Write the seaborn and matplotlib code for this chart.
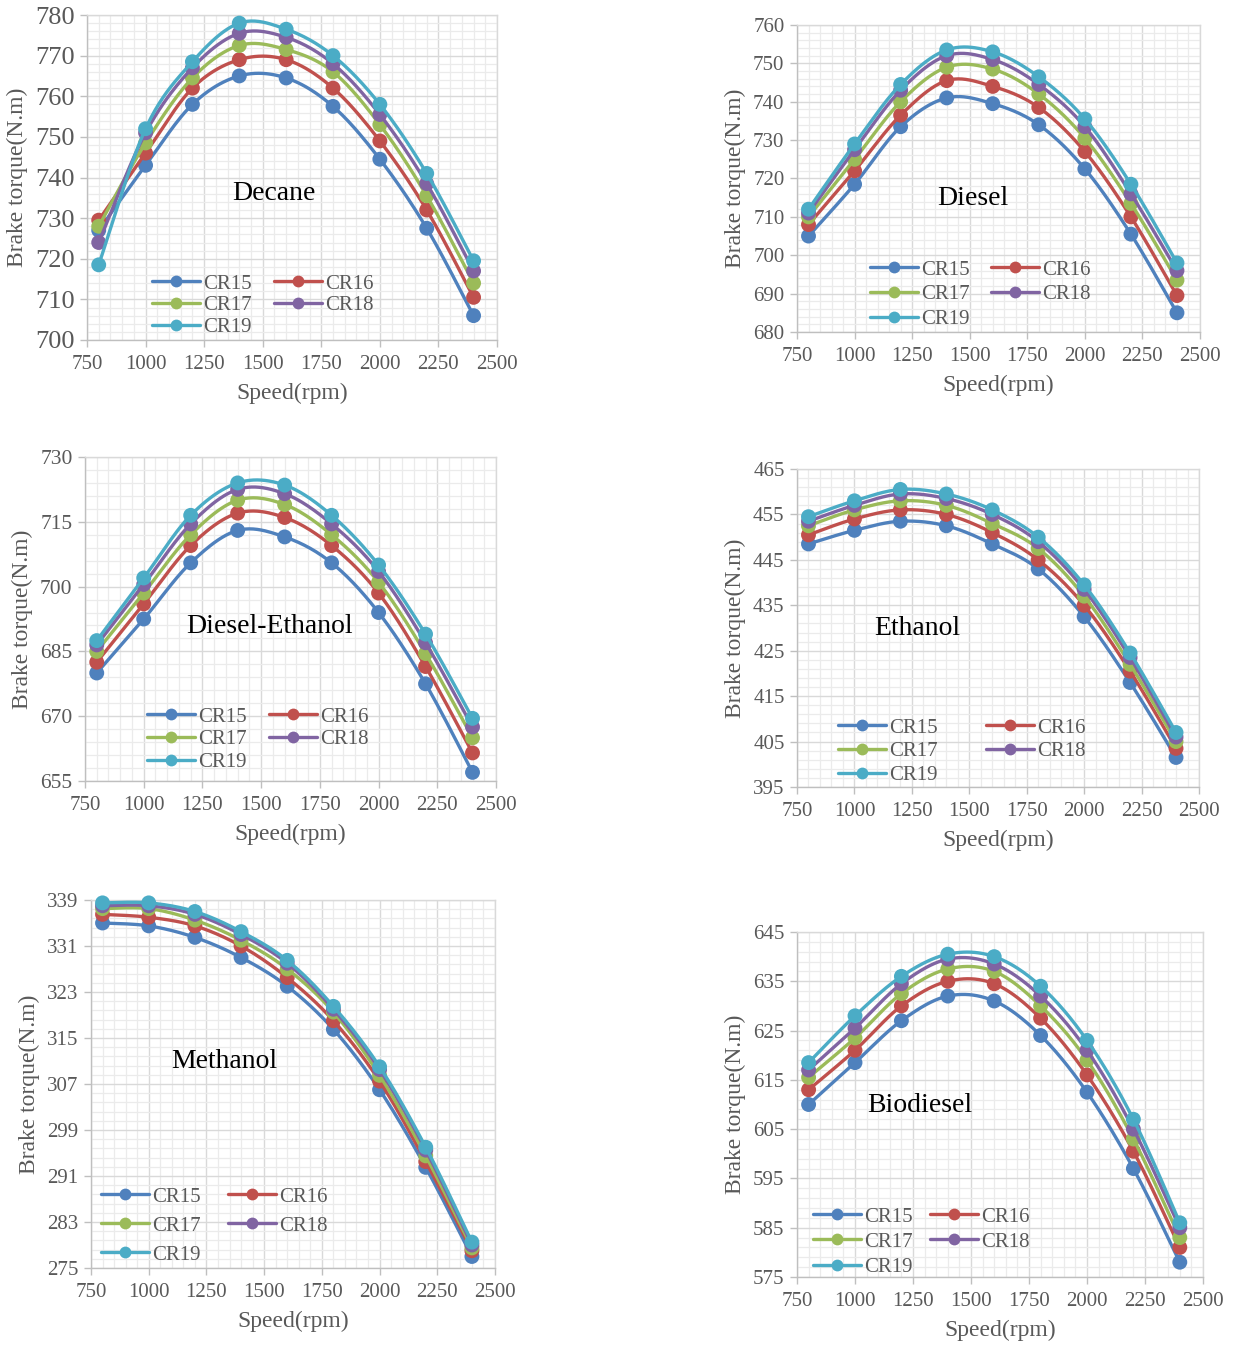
import numpy as np
import pandas as pd
import matplotlib
matplotlib.use("Agg")
import matplotlib.pyplot as plt
import seaborn as sns
from matplotlib.lines import Line2D
from matplotlib.ticker import MultipleLocator, FixedLocator

# ---------------- data ----------------
speed = [800, 1000, 1200, 1400, 1600, 1800, 2000, 2200, 2400]
ratios = ["CR15", "CR16", "CR17", "CR18", "CR19"]

decane = [
    [727.0, 743.0, 758.0, 765.0, 764.5, 757.5, 744.5, 727.5, 706.0],
    [729.5, 746.0, 762.0, 769.0, 769.0, 762.0, 749.0, 732.0, 710.5],
    [728.0, 748.5, 764.5, 772.5, 771.5, 766.0, 753.0, 735.5, 714.0],
    [724.0, 751.0, 767.0, 775.5, 774.5, 768.0, 755.5, 738.5, 717.0],
    [718.5, 752.0, 768.5, 778.0, 776.5, 770.0, 758.0, 741.0, 719.5],
]
diesel = [
    [705.0, 718.5, 733.5, 741.0, 739.5, 734.0, 722.5, 705.5, 685.0],
    [708.0, 722.0, 736.5, 745.5, 744.0, 738.5, 727.0, 710.0, 689.5],
    [710.0, 725.0, 740.0, 749.0, 748.5, 742.0, 730.5, 713.5, 693.5],
    [711.0, 727.5, 743.0, 752.0, 751.0, 744.5, 733.5, 716.0, 696.0],
    [712.0, 729.0, 744.5, 753.5, 753.0, 746.5, 735.5, 718.5, 698.0],
]
diesel_ethanol = [
    [680.0, 692.5, 705.5, 713.0, 711.5, 705.5, 694.0, 677.5, 657.0],
    [682.5, 696.0, 709.5, 717.0, 716.0, 709.5, 698.5, 681.5, 661.5],
    [685.0, 698.5, 712.0, 720.0, 719.0, 712.0, 701.0, 684.5, 665.0],
    [686.5, 700.5, 714.5, 722.5, 721.5, 714.5, 703.5, 687.0, 667.5],
    [687.5, 702.0, 716.5, 724.0, 723.5, 716.5, 705.0, 689.0, 669.5],
]
ethanol = [
    [448.5, 451.5, 453.5, 452.5, 448.5, 443.0, 432.5, 418.0, 401.5],
    [450.5, 454.0, 456.0, 455.0, 451.0, 445.0, 435.0, 420.5, 403.5],
    [452.5, 456.0, 458.0, 457.0, 453.0, 447.5, 437.0, 422.0, 405.0],
    [453.5, 457.0, 459.5, 458.5, 455.0, 449.0, 438.5, 423.5, 406.0],
    [454.5, 458.0, 460.5, 459.5, 456.0, 450.0, 439.5, 424.5, 407.0],
]
methanol = [
    [335.0, 334.5, 332.5, 329.0, 324.0, 316.5, 306.0, 292.5, 277.0],
    [336.5, 336.0, 334.5, 331.0, 325.5, 318.0, 307.5, 293.5, 278.0],
    [337.5, 337.5, 335.5, 332.0, 327.0, 319.5, 308.5, 294.5, 278.5],
    [338.0, 338.0, 336.5, 333.0, 328.0, 320.0, 309.5, 295.5, 279.0],
    [338.5, 338.5, 337.0, 333.5, 328.5, 320.5, 310.0, 296.0, 279.5],
]
biodiesel = [
    [610.0, 618.5, 627.0, 632.0, 631.0, 624.0, 612.5, 597.0, 578.0],
    [613.0, 621.0, 630.0, 635.0, 634.5, 627.5, 616.0, 600.5, 581.0],
    [615.5, 623.5, 632.5, 637.5, 637.0, 630.0, 619.0, 603.0, 583.0],
    [617.0, 625.5, 634.5, 639.5, 638.5, 632.0, 621.0, 605.0, 585.0],
    [618.5, 628.0, 636.0, 640.5, 640.0, 634.0, 623.0, 607.0, 586.0],
]

fuel_names = ["Decane", "Diesel", "Diesel-Ethanol", "Ethanol", "Methanol", "Biodiesel"]
fuel_data = [decane, diesel, diesel_ethanol, ethanol, methanol, biodiesel]
y_ranges = [(700, 780, 10), (680, 760, 10), (655, 730, 15),
            (395, 465, 10), (275, 339, 8), (575, 645, 10)]

# ---------------- style ----------------
colors = ["#4F81BD", "#C0504D", "#9BBB59", "#8064A2", "#4BACC6"]
sns.set_theme(style="white")
plt.rcParams["font.family"] = ["Liberation Serif", "DejaVu Serif"]

W, H = 1245, 1347
fig = plt.figure(figsize=(W / 100, H / 100), dpi=100)

# axes boxes in pixels: (x_left, x_right, y_top, y_bottom)
boxes = [
    (87, 497, 15, 340),
    (797, 1200, 25, 332),
    (85, 496, 457, 781),
    (797, 1199, 469, 787),
    (91, 495, 900, 1268),
    (797, 1203, 932, 1277),
]
label_pos = [(0.456, 0.452), (0.437, 0.436), (0.45, 0.478),
             (0.30, 0.497), (0.33, 0.56), (0.303, 0.496)]
legend_anchor = [(0.159, 0.203), (0.181, 0.2345), (0.151, 0.228),
                 (0.102, 0.217), (0.025, 0.220), (0.039, 0.203)]
col_spacing = [1.05, 1.05, 1.05, 2.3, 1.3, 0.85]
row_spacing = [0.1, 0.25, 0.15, 0.2, 0.45, 0.27]
ytick_size = [19, 15, 15.5, 15, 15, 15]


def smooth_curve(xs, ys, n=24):
    """Excel-like smoothing: cubic Bezier segments with Catmull-Rom controls."""
    x = np.asarray(xs, float)
    y = np.asarray(ys, float)
    P = np.column_stack([x, y])
    out = []
    for i in range(len(P) - 1):
        p0 = P[i - 1] if i > 0 else P[i]
        p1, p2 = P[i], P[i + 1]
        p3 = P[i + 2] if i + 2 < len(P) else P[i + 1]
        c1 = p1 + (p2 - p0) / 6.0
        c2 = p2 - (p3 - p1) / 6.0
        t = np.linspace(0, 1, n, endpoint=(i == len(P) - 2))[:, None]
        seg = ((1 - t) ** 3) * p1 + 3 * ((1 - t) ** 2) * t * c1 + 3 * (1 - t) * t ** 2 * c2 + t ** 3 * p2
        out.append(seg)
    out = np.vstack(out)
    return out[:, 0], out[:, 1]


grid_major = "#D9D9D9"
grid_minor = "#EBEBEB"
text_gray = "#595959"
legend_order = [0, 2, 4, 1, 3]  # row-wise order CR15 CR16 / CR17 CR18 / CR19

for k in range(6):
    xl, xr, yt, yb = boxes[k]
    ax = fig.add_axes([xl / W, 1 - yb / H, (xr - xl) / W, (yb - yt) / H])
    ymin, ymax, ystep = y_ranges[k]
    data = fuel_data[k]

    for j, name in enumerate(ratios):
        sx, sy = smooth_curve(speed, data[j])
        curve = pd.DataFrame({"Speed": sx, "Torque": sy})
        sns.lineplot(data=curve, x="Speed", y="Torque", ax=ax, color=colors[j],
                     linewidth=2.4, sort=False, estimator=None, zorder=3 + 2 * j)
        pts = pd.DataFrame({"Speed": speed, "Torque": data[j]})
        sns.scatterplot(data=pts, x="Speed", y="Torque", ax=ax, color=colors[j],
                        s=115, edgecolor="none", linewidth=0, zorder=4 + 2 * j,
                        clip_on=False)

    ax.set_xlim(750, 2500)
    ax.set_ylim(ymin, ymax)
    ax.xaxis.set_major_locator(MultipleLocator(250))
    ax.xaxis.set_minor_locator(MultipleLocator(50))
    ax.yaxis.set_major_locator(FixedLocator(np.arange(ymin, ymax + ystep / 2, ystep)))
    ax.yaxis.set_minor_locator(FixedLocator(np.arange(ymin, ymax + ystep / 10, ystep / 5)))
    ax.grid(which="major", color=grid_major, linewidth=1.0, zorder=0)
    ax.grid(which="minor", color=grid_minor, linewidth=0.9, zorder=0)
    ax.set_axisbelow(True)
    for side, sp in ax.spines.items():
        sp.set_visible(True)
        sp.set_color(grid_major if side in ("top", "right") else "#BFBFBF")
        sp.set_linewidth(1.0)
    ax.tick_params(axis="both", which="major", direction="out", length=5,
                   width=1.0, color="#BFBFBF", labelcolor=text_gray,
                   pad=4, left=True, bottom=True)
    ax.tick_params(axis="x", which="major", labelsize=15, pad=6)
    ax.tick_params(axis="y", which="major", labelsize=ytick_size[k])
    ax.tick_params(axis="both", which="minor", length=0)
    ax.set_xlabel("Speed(rpm)", fontsize=17, color=text_gray, labelpad=6)
    ax.set_ylabel("Brake torque(N.m)", fontsize=17, color=text_gray, labelpad=5)

    lx, ly = label_pos[k]
    ax.text(lx, ly, fuel_names[k], transform=ax.transAxes, ha="center",
            va="center", fontsize=20, color="black", zorder=20)

    handles = [Line2D([0], [0], color=colors[j], linewidth=2.4, marker="o",
                      markersize=8.5, markeredgewidth=0) for j in range(5)]
    ax.legend([handles[i] for i in legend_order], [ratios[i] for i in legend_order],
              ncol=2, loc="upper left",
              bbox_to_anchor=legend_anchor[k], frameon=False, fontsize=15,
              handlelength=2.3, handletextpad=0.15, columnspacing=col_spacing[k],
              labelspacing=row_spacing[k], borderpad=0, borderaxespad=0,
              labelcolor=text_gray)

fig.savefig("out.png", dpi=100)
